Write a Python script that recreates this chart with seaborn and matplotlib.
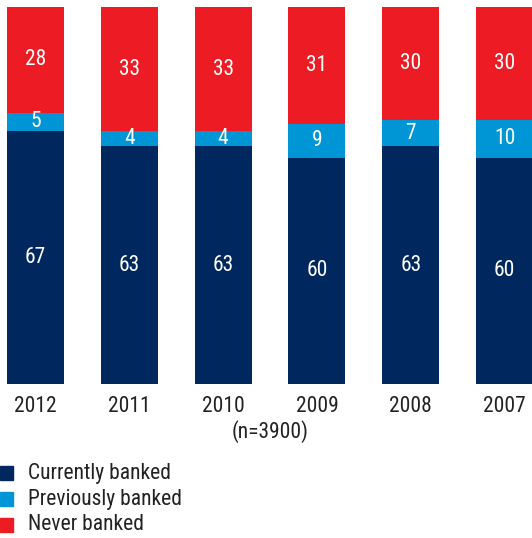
import matplotlib
matplotlib.use("Agg")
import matplotlib.pyplot as plt
from matplotlib import font_manager
from matplotlib.patches import Rectangle
import seaborn as sns
import pandas as pd

years = ["2012", "2011", "2010", "2009", "2008", "2007"]
currently = [67, 63, 63, 60, 63, 60]
previously = [5, 4, 4, 9, 7, 10]
never = [28, 33, 33, 31, 30, 30]
series_names = ["Currently banked", "Previously banked", "Never banked"]
note = "(n=3900)"

colors = ["#00285f", "#0096d6", "#ed1c24"]

sns.set_style("white")
available = {f.name for f in font_manager.fontManager.ttflist}
family = [f for f in ["Liberation Sans Narrow", "Roboto Condensed", "Roboto", "DejaVu Sans"] if f in available]
plt.rcParams["font.family"] = family

df = pd.DataFrame({"year": years, "cur": currently, "prev": previously, "never": never})

fig = plt.figure(figsize=(5.32, 5.38), dpi=100)
ax = fig.add_axes([0, (538 - 384) / 538, 1, (384 - 7) / 538])

# stacked bars: each layer sits on the running total of the layers below
bottoms = [0] * len(years)
for col, c in zip(["cur", "prev", "never"], colors):
    sns.barplot(data=df, x="year", y=col, order=years, color=c, width=0.608,
                bottom=bottoms, ax=ax, saturation=1, linewidth=0)
    for i, v in enumerate(df[col]):
        ax.text(i, bottoms[i] + v / 2, str(v), ha="center", va="center",
                color="white", fontsize=15.5)
    bottoms = [b + v for b, v in zip(bottoms, df[col])]

ax.set_xlim(-0.378, 5.293)
ax.set_ylim(0, 100)
ax.axis("off")

for i, y in enumerate(years):
    fig.text((35.5 + i * 93.8) / 532, 1 - 406 / 538, y, ha="center", va="center",
             fontsize=15.5, color="#222222")
fig.text(270 / 532, 1 - 432 / 538, note, ha="center", va="center", fontsize=15.5, color="#222222")

# legend drawn by hand: square swatches with labels
for k, (name, c) in enumerate(zip(series_names, colors)):
    yc = 473 + k * 26
    fig.patches.append(Rectangle((0, 1 - (yc + 7) / 538), 13 / 532, 14 / 538,
                                 transform=fig.transFigure, color=c, figure=fig))
    fig.text(28 / 532, 1 - yc / 538, name, ha="left", va="center", fontsize=15.5, color="#222222")

fig.savefig("out.png", dpi=100)
